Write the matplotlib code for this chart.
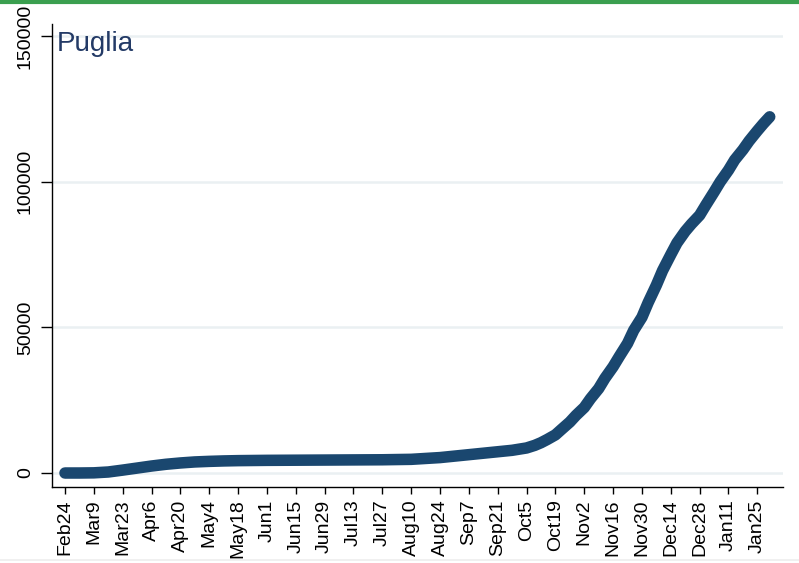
import numpy as np
import pandas as pd
import matplotlib
matplotlib.use('Agg')
import matplotlib.pyplot as plt
from matplotlib.lines import Line2D

plt.rcParams['font.family'] = ['Liberation Sans', 'DejaVu Sans']

# cumulative cases, Puglia (readings)
dates = ['2020-02-24', '2020-03-02', '2020-03-09', '2020-03-16', '2020-03-23',
         '2020-03-30', '2020-04-06', '2020-04-13', '2020-04-20', '2020-04-27',
         '2020-05-04', '2020-05-11', '2020-05-18', '2020-05-25', '2020-06-01',
         '2020-06-15', '2020-06-29', '2020-07-13', '2020-07-27', '2020-08-10',
         '2020-08-24', '2020-09-07', '2020-09-21', '2020-09-28', '2020-10-05',
         '2020-10-09', '2020-10-12', '2020-10-15', '2020-10-19', '2020-10-22',
         '2020-10-26', '2020-10-29', '2020-11-02', '2020-11-05', '2020-11-09',
         '2020-11-12', '2020-11-16', '2020-11-19', '2020-11-23', '2020-11-26',
         '2020-11-30', '2020-12-03', '2020-12-07', '2020-12-10', '2020-12-14',
         '2020-12-17', '2020-12-21', '2020-12-24', '2020-12-28', '2020-12-31',
         '2021-01-04', '2021-01-07', '2021-01-11', '2021-01-14', '2021-01-18',
         '2021-01-21', '2021-01-25', '2021-01-28', '2021-01-31']
cases = [0, 5, 60, 350, 1000, 1700, 2400, 3000, 3450, 3800,
         4000, 4150, 4250, 4300, 4350, 4400, 4450, 4500, 4550, 4700,
         5300, 6300, 7300, 7800, 8600, 9500, 10400, 11500, 13100, 15000,
         17500, 19800, 22500, 25500, 29000, 32500, 36500, 40000, 44500, 49000,
         53500, 58500, 64500, 69500, 75000, 79000, 83000, 85500, 88500, 92000,
         96500, 100000, 104000, 107500, 111000, 114000, 117500, 120000, 122300]
yticks = [0, 50000, 100000, 150000]
tick_dates = pd.date_range('2020-02-24', '2021-01-25', freq='14D')
tick_labels = [d.strftime('%b') + str(d.day) for d in tick_dates]

navy = '#1a476f'
grid_col = '#eaf0f2'

fig = plt.figure(figsize=(7.99, 5.63), dpi=100)
ax = fig.add_axes([0.0651, 0.135, 0.915, 0.822])

x = pd.to_datetime(dates)
ax.plot(x, cases, color=navy, lw=8.3, solid_capstyle='round',
        solid_joinstyle='round', zorder=3)

start = pd.Timestamp('2020-02-24')
ax.set_xlim(start - pd.Timedelta(days=6.3), start + pd.Timedelta(days=348.5))
ax.set_ylim(-4800, 154100)

ax.set_yticks(yticks)
ax.set_yticklabels([str(v) for v in yticks], rotation=90, va='center', fontsize=14)
ax.set_xticks(tick_dates)
ax.set_xticklabels(tick_labels, rotation=90, fontsize=14)
ax.tick_params(axis='y', length=8, width=1, pad=5)
ax.tick_params(axis='x', length=5, width=1, pad=4)

ax.yaxis.grid(True, color=grid_col, lw=1.8, zorder=0)
ax.set_axisbelow(True)
for s in ['top', 'right']:
    ax.spines[s].set_visible(False)
for s in ['left', 'bottom']:
    ax.spines[s].set_linewidth(1)

ax.text(0.006, 0.985, 'Puglia', transform=ax.transAxes, fontsize=20,
        color='#233a66', ha='left', va='top')

# page decorations
fig.add_artist(Line2D([0, 1], [0.9965, 0.9965], transform=fig.transFigure,
                      color='#3a9f4f', lw=3))
fig.add_artist(Line2D([0, 1], [0.005, 0.005], transform=fig.transFigure,
                      color='#eeeeee', lw=1.2))

fig.savefig('out.png', dpi=100)
